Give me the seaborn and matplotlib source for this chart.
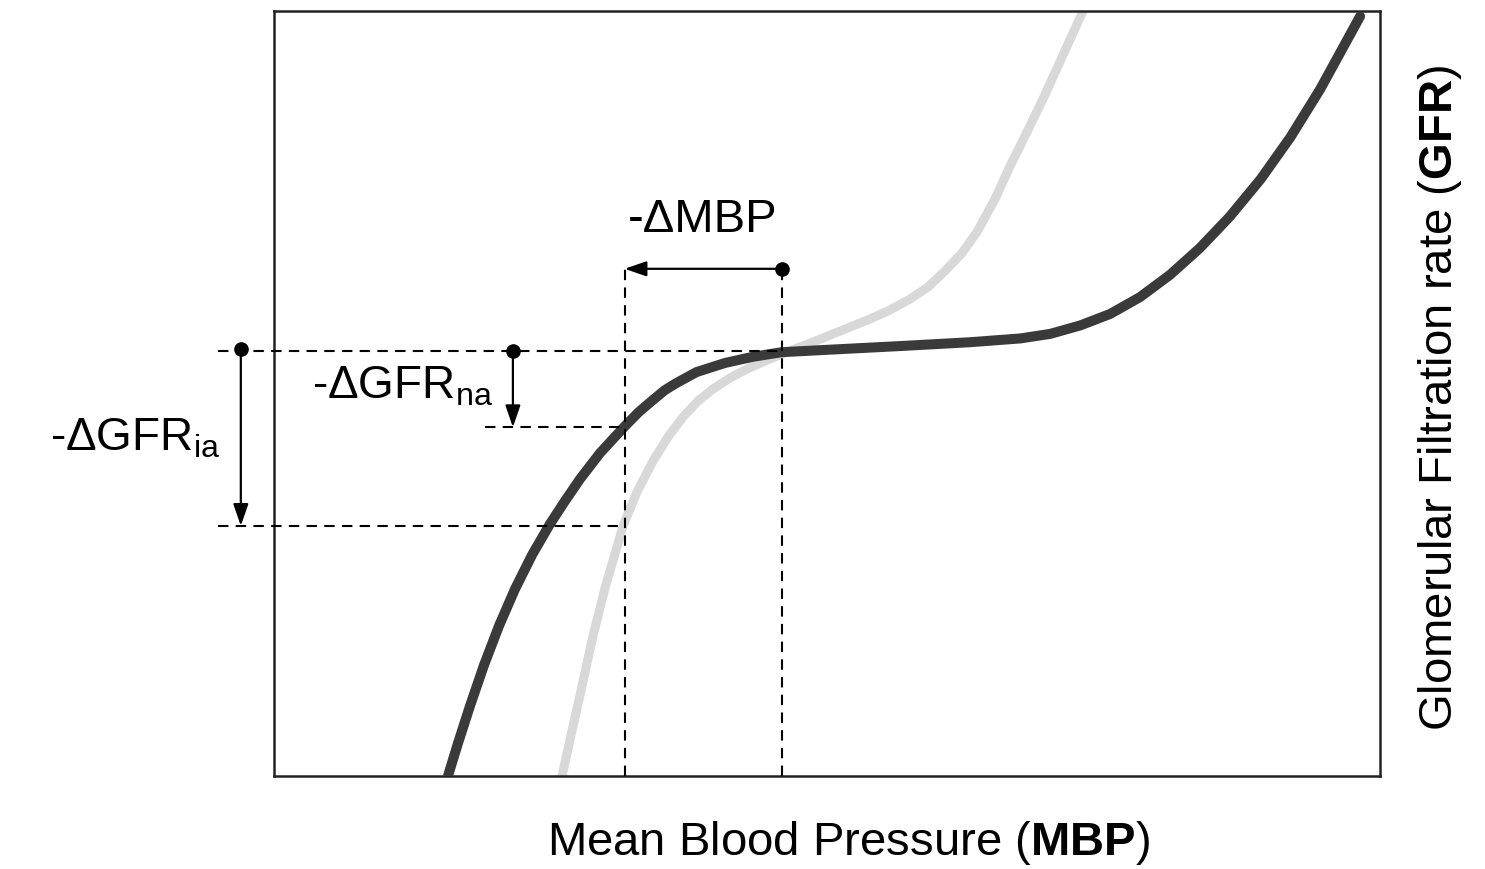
import matplotlib
matplotlib.use("Agg")
import matplotlib.pyplot as plt
import seaborn as sns
import pandas as pd

# ---- data (arbitrary units, x: 0-100 MBP, y: 0-100 GFR) ----
dark_x = [15.73, 16.64, 17.72, 18.99, 20.34, 21.79, 23.33, 24.95, 26.31, 27.67, 29.48, 31.65,
          33.0, 34.3, 35.3, 36.3, 38.2, 40.8, 43.3, 45.9, 51.2, 56.6, 62.9, 67.5, 70.2, 72.9,
          75.6, 78.3, 81.0, 83.7, 86.4, 89.2, 91.9, 94.6, 98.2]
dark_y = [0.0, 4.31, 9.15, 14.51, 19.61, 24.44, 28.89, 32.94, 35.95, 38.82, 42.22, 45.62,
          47.6, 49.2, 50.4, 51.3, 52.8, 54.0, 54.8, 55.4, 55.8, 56.2, 56.7, 57.2, 57.8, 58.9,
          60.4, 62.6, 65.5, 69.0, 73.1, 78.0, 83.5, 89.8, 99.3]
light_x = [26.04, 26.94, 27.85, 28.84, 29.93, 31.56, 32.82, 34.27, 35.62, 36.98, 38.34, 39.69,
           41.23, 42.77, 44.39, 46.38, 48.28, 50.09, 53.89, 55.70, 57.50, 59.13, 60.67, 62.21,
           63.56, 65.19, 66.55, 68.08, 69.53, 70.89, 72.24, 73.15]
light_y = [0.0, 5.88, 11.76, 18.30, 24.58, 32.68, 37.12, 41.18, 44.31, 46.93, 49.02, 50.59,
           52.03, 53.20, 54.25, 55.42, 56.47, 57.52, 59.74, 60.92, 62.35, 63.92, 66.01, 68.37,
           71.11, 75.42, 79.74, 84.18, 88.50, 92.81, 97.12, 100.0]

gfr_start = 55.6
gfr_na = 45.6
gfr_ia = 32.7
mbp_start = 45.9
mbp_end = 31.7
mbp_arrow_y = 66.3

sns.set_theme(style="white")
plt.rcParams["font.family"] = ["Liberation Sans", "DejaVu Sans"]
plt.rcParams["mathtext.fontset"] = "custom"
plt.rcParams["mathtext.rm"] = "Liberation Sans"
plt.rcParams["mathtext.bf"] = "Liberation Sans:bold"
plt.rcParams["mathtext.it"] = "Liberation Sans:italic"
plt.rcParams["text.color"] = "black"

fig = plt.figure(figsize=(14.85, 8.7), dpi=100)
ax = fig.add_axes([274 / 1485, 1 - 777 / 870, 1106 / 1485, 765 / 870])

dark = pd.DataFrame({"x": dark_x, "y": dark_y})
light = pd.DataFrame({"x": light_x, "y": light_y})
sns.lineplot(data=light, x="x", y="y", sort=False, color="#d8d8d8", linewidth=6.5, ax=ax, zorder=2)
sns.lineplot(data=dark, x="x", y="y", sort=False, color="#3a3a3a", linewidth=7.2, ax=ax, zorder=3)

ax.set_xlim(0, 100)
ax.set_ylim(0, 100)
ax.set_xticks([])
ax.set_yticks([])
ax.set_xlabel("")
ax.set_ylabel("")
for s in ax.spines.values():
    s.set_color("#222222")
    s.set_linewidth(1.8)

dash = dict(color="black", linewidth=1.5, linestyle=(0, (5, 3.5)), clip_on=False, zorder=4)
x_left = -5.1
x_na_left = 19.1
ax.plot([x_left, mbp_start], [gfr_start, gfr_start], **dash)
ax.plot([x_na_left, mbp_end], [gfr_na, gfr_na], **dash)
ax.plot([x_left, mbp_end], [gfr_ia, gfr_ia], **dash)
ax.plot([mbp_end, mbp_end], [0, mbp_arrow_y + 0.5], **dash)
ax.plot([mbp_start, mbp_start], [0, mbp_arrow_y + 0.5], **dash)

arrow = dict(arrowstyle="-|>,head_length=1.1,head_width=0.38", color="black", lw=1.6,
             shrinkA=0, shrinkB=0)
x_ia = -3.0
x_na = 21.6
ax.annotate("", xy=(x_ia, gfr_ia), xytext=(x_ia, gfr_start), arrowprops=arrow, annotation_clip=False)
ax.annotate("", xy=(x_na, gfr_na), xytext=(x_na, gfr_start), arrowprops=arrow, annotation_clip=False)
ax.annotate("", xy=(mbp_end, mbp_arrow_y), xytext=(mbp_start, mbp_arrow_y), arrowprops=arrow, annotation_clip=False)
ax.plot([x_ia, x_na, mbp_start], [gfr_start + 0.2, gfr_start, mbp_arrow_y], "o", color="black",
        markersize=9.5, clip_on=False, zorder=5)

ax.text((mbp_start + mbp_end) / 2, 72.8, "-ΔMBP", ha="center", va="center", fontsize=34)
ax.text(19.8, 51.0, "-ΔGFR$_{\\mathregular{na}}$", ha="right", va="center", fontsize=33)
ax.text(-4.9, 44.2, "-ΔGFR$_{\\mathregular{ia}}$", ha="right", va="center", fontsize=33)

fig.text(848 / 1485, 1 - 843 / 870, "Mean Blood Pressure ($\\mathbf{MBP}$)", ha="center", va="center", fontsize=34)
fig.text(1440 / 1485, 1 - 398 / 870, "Glomerular Filtration rate ($\\mathbf{GFR}$)", ha="center", va="center",
         fontsize=34, rotation=90)

fig.savefig("out.png", dpi=100, facecolor="white")
